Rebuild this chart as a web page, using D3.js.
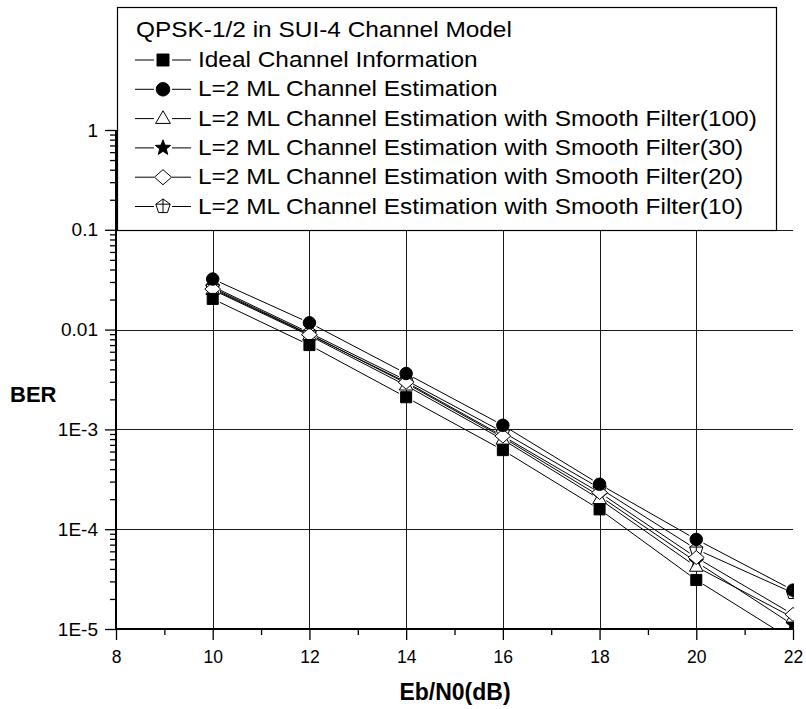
<!DOCTYPE html>
<html>
<head>
<meta charset="utf-8">
<script src="https://cdn.jsdelivr.net/npm/d3@7"></script>
<style>
  html, body { margin: 0; padding: 0; background: #fff; }
  svg { display: block; font-family: "Liberation Sans", Arial, sans-serif; }
</style>
</head>
<body>
<svg id="chart" width="806" height="709"></svg>
<script>
// Eb/N0 sample points (dB)
const ebn0 = [10, 12, 14, 16, 18, 20, 22];

// Bit error rate for each receiver configuration
const berIdeal = [0.0203, 0.0070, 0.0021, 0.00062, 0.000158, 3.1e-5, 7.7e-6];
const berML    = [0.0321, 0.0117, 0.00363, 0.00110, 0.000282, 7.9e-5, 2.45e-5];
const berSF100 = [0.0250, 0.0087, 0.00275, 0.00079, 0.000200, 4.2e-5, 1.3e-5];
const berSF30  = [0.0262, 0.0090, 0.00290, 0.00083, 0.000215, 4.7e-5, 1.1e-5];
const berSF20  = [0.0255, 0.0089, 0.00297, 0.000858, 0.000233, 5.2e-5, 1.4e-5];
const berSF10  = [0.0270, 0.0093, 0.00310, 0.00094, 0.000258, 6.3e-5, 2.3e-5];

const seriesNames = [
  "Ideal Channel Information",
  "L=2 ML Channel Estimation",
  "L=2 ML Channel Estimation with Smooth Filter(100)",
  "L=2 ML Channel Estimation with Smooth Filter(30)",
  "L=2 ML Channel Estimation with Smooth Filter(20)",
  "L=2 ML Channel Estimation with Smooth Filter(10)"
];
const seriesValues = [berIdeal, berML, berSF100, berSF30, berSF20, berSF10];
const seriesSymbols = ["square", "circle", "triangle", "star", "diamond", "pentagon"];
const seriesFilled = [true, true, false, true, false, false];
// stacking order of the markers (last one ends up on top)
const markerOrder = [3, 5, 2, 4, 0, 1];

const legendTitle = "QPSK-1/2 in SUI-4 Channel Model";
const xTicks = [8, 10, 12, 14, 16, 18, 20, 22];
const yTicks = [1, 0.1, 0.01, 1e-3, 1e-4, 1e-5];
const yTickLabels = ["1", "0.1", "0.01", "1E-3", "1E-4", "1E-5"];
const xTitle = "Eb/N0(dB)";
const yTitle = "BER";

// ---- layout ----
const plot = { left: 116, right: 793, top: 130, bottom: 629 };
const svg = d3.select("#chart");

const x = d3.scaleLinear().domain([8, 22]).range([plot.left, plot.right]);
const y = d3.scaleLog().domain([1e-5, 1]).range([plot.bottom, plot.top]);

// ---- marker shapes ----
function symbolPath(kind, s) {
  const p = d3.path();
  if (kind === "square") {
    p.rect(-s * 0.46, -s * 0.46, s * 0.92, s * 0.92);
  } else if (kind === "circle") {
    p.arc(0, 0, s * 0.52, 0, 2 * Math.PI);
  } else if (kind === "triangle") {
    const r = s * 0.6;
    p.moveTo(0, -r);
    p.lineTo(r * 0.95, r * 0.62);
    p.lineTo(-r * 0.95, r * 0.62);
    p.closePath();
  } else if (kind === "diamond") {
    const w = s * 0.66, h = s * 0.58;
    p.moveTo(0, -h); p.lineTo(w, 0); p.lineTo(0, h); p.lineTo(-w, 0); p.closePath();
  } else if (kind === "star") {
    const ro = s * 0.62, ri = ro * 0.42;
    for (let i = 0; i < 10; i++) {
      const a = -Math.PI / 2 + i * Math.PI / 5;
      const r = i % 2 ? ri : ro;
      if (i === 0) p.moveTo(r * Math.cos(a), r * Math.sin(a));
      else p.lineTo(r * Math.cos(a), r * Math.sin(a));
    }
    p.closePath();
  } else if (kind === "pentagon") {
    const r = s * 0.58;
    for (let i = 0; i < 5; i++) {
      const a = -Math.PI / 2 + i * 2 * Math.PI / 5;
      if (i === 0) p.moveTo(r * Math.cos(a), r * Math.sin(a));
      else p.lineTo(r * Math.cos(a), r * Math.sin(a));
    }
    p.closePath();
    p.moveTo(0, -r); p.lineTo(0, r * 0.81);
    p.moveTo(-r * 0.95, -r * 0.31); p.lineTo(r * 0.95, -r * 0.31);
  }
  return p.toString();
}

function drawMarker(g, kind, filled, cx, cy, s) {
  g.append("path")
    .attr("d", symbolPath(kind, s))
    .attr("transform", `translate(${cx},${cy})`)
    .attr("fill", filled ? "#000" : "#fff")
    .attr("stroke", "#000")
    .attr("stroke-width", 1);
}

// ---- grid ----
const grid = svg.append("g").attr("stroke", "#1a1a1a").attr("stroke-width", 1);
grid.selectAll("line.v")
  .data(xTicks.filter(t => t > 8 && t < 22))
  .join("line")
  .attr("x1", d => Math.round(x(d)) + 0.5).attr("x2", d => Math.round(x(d)) + 0.5)
  .attr("y1", plot.top).attr("y2", plot.bottom);
grid.selectAll("line.h")
  .data(yTicks.filter(t => t < 1 && t > 1e-5))
  .join("line")
  .attr("y1", d => Math.round(y(d)) + 0.5).attr("y2", d => Math.round(y(d)) + 0.5)
  .attr("x1", plot.left).attr("x2", plot.right);

// ---- data ----
svg.append("clipPath").attr("id", "plotClip")
  .append("rect")
  .attr("x", plot.left).attr("y", 0)
  .attr("width", plot.right - plot.left + 1).attr("height", plot.bottom);

const dataG = svg.append("g").attr("clip-path", "url(#plotClip)");
const gap = 8;
seriesValues.forEach((vals, si) => {
  const pts = vals.map((v, i) => [x(ebn0[i]), y(v)]);
  const segs = [];
  for (let i = 0; i < pts.length - 1; i++) {
    const [x0, y0] = pts[i], [x1, y1] = pts[i + 1];
    const len = Math.hypot(x1 - x0, y1 - y0);
    const ux = (x1 - x0) / len, uy = (y1 - y0) / len;
    segs.push([x0 + ux * gap, y0 + uy * gap, x1 - ux * gap, y1 - uy * gap]);
  }
  dataG.append("g").selectAll("line").data(segs).join("line")
    .attr("x1", d => d[0]).attr("y1", d => d[1])
    .attr("x2", d => d[2]).attr("y2", d => d[3])
    .attr("stroke", "#000").attr("stroke-width", 1);
});
markerOrder.forEach(si => {
  const g = dataG.append("g");
  seriesValues[si].forEach((v, i) =>
    drawMarker(g, seriesSymbols[si], seriesFilled[si], x(ebn0[i]), y(v), 12));
});

// ---- axes ----
const yAxis = d3.axisLeft(y)
  .tickValues(yTicks)
  .tickFormat((d, i) => yTickLabels[i])
  .tickSize(11).tickPadding(7);
const yMinor = [];
for (let e = -5; e < 0; e++) for (let m = 2; m <= 9; m++) yMinor.push(m * Math.pow(10, e));

const yG = svg.append("g").attr("transform", `translate(${plot.left},0)`);
yG.append("g").call(d3.axisLeft(y).tickValues(yMinor).tickFormat("").tickSize(6))
  .call(g => g.select(".domain").remove());
yG.append("g").attr("class", "y-major").call(yAxis)
  .call(g => g.select(".domain").remove());

const xAxis = d3.axisBottom(x).tickValues(xTicks).tickFormat(d3.format("d"))
  .tickSize(11).tickPadding(11);
const xMinor = d3.range(9, 22, 2);
const xG = svg.append("g").attr("transform", `translate(0,${plot.bottom})`);
xG.append("g").call(d3.axisBottom(x).tickValues(xMinor).tickFormat("").tickSize(6))
  .call(g => g.select(".domain").remove());
xG.append("g").attr("class", "x-major").call(xAxis)
  .call(g => g.select(".domain").remove());

svg.selectAll(".tick line").attr("stroke", "#000").attr("stroke-width", 1.3);
svg.selectAll(".tick text")
  .attr("font-family", "'Liberation Sans', Arial, sans-serif")
  .attr("fill", "#000");
svg.selectAll(".y-major .tick text").attr("font-size", 19);
svg.selectAll(".x-major .tick text").attr("font-size", 17.5);

// axis lines
svg.append("line")
  .attr("x1", plot.left).attr("x2", plot.left)
  .attr("y1", plot.top).attr("y2", plot.bottom + 1)
  .attr("stroke", "#000").attr("stroke-width", 2);
svg.append("line")
  .attr("x1", plot.left - 1).attr("x2", plot.right + 1)
  .attr("y1", plot.bottom).attr("y2", plot.bottom)
  .attr("stroke", "#000").attr("stroke-width", 2);

// ---- axis titles ----
svg.append("text").text(yTitle)
  .attr("x", 10).attr("y", 402)
  .attr("font-size", 22).attr("font-weight", "bold");
svg.append("text").text(xTitle)
  .attr("x", 455).attr("y", 700)
  .attr("text-anchor", "middle")
  .attr("font-size", 23).attr("font-weight", "bold");

// ---- legend ----
const leg = svg.append("g");
leg.append("rect")
  .attr("x", 117.5).attr("y", 7.5)
  .attr("width", 659).attr("height", 223)
  .attr("fill", "#fff").attr("stroke", "#000").attr("stroke-width", 1.2);
const widen = 1.11; // legend lettering is set slightly wide
leg.append("text").text(legendTitle)
  .attr("transform", `translate(136,37) scale(${widen},1)`)
  .attr("font-size", 22);
const rowY0 = 67, rowStep = 29.3;
seriesNames.forEach((name, i) => {
  const cy = rowY0 + i * rowStep - 7;
  const row = leg.append("g");
  row.append("line").attr("x1", 135).attr("x2", 154).attr("y1", cy).attr("y2", cy)
    .attr("stroke", "#000").attr("stroke-width", 1);
  row.append("line").attr("x1", 172).attr("x2", 191).attr("y1", cy).attr("y2", cy)
    .attr("stroke", "#000").attr("stroke-width", 1);
  drawMarker(row, seriesSymbols[i], seriesFilled[i], 163, cy, 13);
  row.append("text").text(name)
    .attr("transform", `translate(198,${rowY0 + i * rowStep}) scale(${widen},1)`)
    .attr("font-size", 22);
});
</script>
</body>
</html>
